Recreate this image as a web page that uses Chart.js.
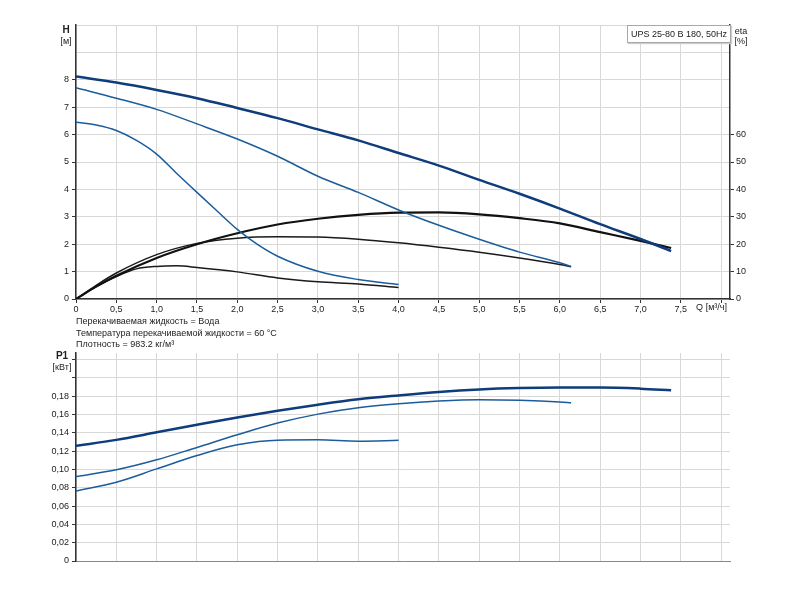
<!DOCTYPE html>
<html>
<head>
<meta charset="utf-8">
<script src="https://cdn.jsdelivr.net/npm/chart.js@4/dist/chart.umd.min.js"></script>
<style>
  body { margin: 0; background: #fff; font-family: "Liberation Sans", Arial, sans-serif; }
  #wrap { position: relative; width: 800px; height: 600px; }
  canvas { position: absolute; left: 0; }
  #top { top: 0; }
  #bottom { top: 340px; }
  .box { position: absolute; left: 627px; top: 25px; width: 99px; height: 16px; border: 1px solid #a8a8a8;
         background: #fff; font-size: 9px; line-height: 16px; padding-left: 3px; color: #222;
         white-space: nowrap; box-shadow: 1px 1px 1px #ccc; }
  .notes { position: absolute; left: 76px; top: 316px; font-size: 9px; line-height: 11.5px; color: #222; }
</style>
</head>
<body>
<div id="wrap">
  <canvas id="top" width="800" height="320"></canvas>
  <canvas id="bottom" width="800" height="240"></canvas>
  <div class="box">UPS 25-80 B 180, 50Hz</div>
  <div class="notes">
    Перекачиваемая жидкость = Вода<br>
    Температура перекачиваемой жидкости = 60 °C<br>
    Плотность = 983.2 кг/м³
  </div>
</div>
<script>
// head curves, H [m]
var qHeadHigh = [0, 0.5, 1, 1.5, 2, 2.5, 3, 3.5, 4, 4.5, 5, 5.5, 6, 6.5, 7, 7.38];
var headHigh  = [8.12, 7.9, 7.63, 7.33, 6.97, 6.6, 6.19, 5.79, 5.33, 4.87, 4.35, 3.84, 3.3, 2.73, 2.19, 1.75];
var qHeadMid  = [0, 0.5, 1, 1.5, 2, 2.5, 3, 3.5, 4, 4.5, 5, 5.5, 6, 6.14];
var headMid   = [7.71, 7.33, 6.92, 6.39, 5.84, 5.21, 4.48, 3.89, 3.25, 2.69, 2.18, 1.71, 1.32, 1.19];
var qHeadLow  = [0, 0.25, 0.5, 0.75, 1, 1.25, 1.5, 1.75, 2, 2.25, 2.5, 3, 3.5, 4];
var headLow   = [6.45, 6.35, 6.15, 5.79, 5.29, 4.58, 3.89, 3.21, 2.54, 1.99, 1.56, 1.01, 0.71, 0.53];

// efficiency curves, eta [%]
var qEtaHigh = [0, 0.25, 0.5, 1, 1.5, 2, 2.5, 3, 3.5, 4, 4.5, 5, 5.5, 6, 6.5, 7, 7.38];
var etaHigh  = [0, 4.5, 8.5, 15, 20, 24, 27.2, 29.3, 30.7, 31.5, 31.6, 30.9, 29.5, 27.6, 24.4, 21.2, 18.6];
var qEtaMid  = [0, 0.25, 0.5, 1, 1.5, 2, 2.5, 3, 3.5, 4, 4.5, 5, 5.5, 6, 6.14];
var etaMid   = [0, 5, 9.5, 16.2, 20.3, 22.2, 22.7, 22.6, 21.8, 20.5, 18.9, 17.1, 15, 12.6, 11.8];
var qEtaLow  = [0, 0.25, 0.5, 0.75, 1, 1.25, 1.5, 2, 2.5, 3, 3.5, 4];
var etaLow   = [0, 4.5, 8.2, 11, 11.9, 12.1, 11.5, 9.9, 7.7, 6.3, 5.5, 4.2];

// power curves, P1 [kW]
var qP1High = [0, 0.5, 1, 1.5, 2, 2.5, 3, 3.5, 4, 4.5, 5, 5.5, 6, 6.5, 7, 7.38];
var p1High  = [0.1257, 0.1322, 0.1404, 0.1486, 0.1566, 0.1639, 0.1705, 0.1764, 0.1807, 0.1845, 0.1872, 0.1887, 0.1893, 0.1893, 0.1881, 0.1863];
var qP1Mid  = [0, 0.5, 1, 1.5, 2, 2.5, 3, 3.5, 4, 4.5, 5, 5.5, 6, 6.14];
var p1Mid   = [0.0922, 0.0995, 0.1104, 0.1239, 0.1377, 0.1505, 0.1603, 0.1672, 0.1716, 0.1746, 0.176, 0.1754, 0.1736, 0.1727];
var qP1Low  = [0, 0.5, 1, 1.5, 2, 2.5, 3, 3.5, 4];
var p1Low   = [0.0765, 0.086, 0.1005, 0.1151, 0.1268, 0.1319, 0.1322, 0.1308, 0.1317];

// tick labels
var qTicks   = [0, 0.5, 1, 1.5, 2, 2.5, 3, 3.5, 4, 4.5, 5, 5.5, 6, 6.5, 7, 7.5, 8];
var hTicks   = [0, 1, 2, 3, 4, 5, 6, 7, 8, 9, 10];
var etaTicks = [0, 10, 20, 30, 40, 50, 60];
var p1Ticks  = [0, 0.02, 0.04, 0.06, 0.08, 0.1, 0.12, 0.14, 0.16, 0.18, 0.2, 0.22];

var FONT = { family: '"Liberation Sans", Arial, sans-serif', size: 9 };
var GRID = '#d8d8d8';
var AXIS = '#333';
var NAVY = '#0f3c7a';
var BLUE = '#1b5d9c';

function pts(xs, ys) {
  return xs.map(function (x, i) { return { x: x, y: ys[i] }; });
}
function comma(v, d) {
  return v === 0 ? '0' : v.toFixed(d).replace('.', ',');
}
function line(data, color, width, axis) {
  return {
    data: data, borderColor: color, borderWidth: width, pointRadius: 0,
    fill: false, cubicInterpolationMode: 'monotone', yAxisID: axis || 'y'
  };
}
function setTicks(list) {
  return function (scale) { scale.ticks = list.map(function (v) { return { value: v }; }); };
}

var axisTitles = {
  id: 'axisTitles',
  afterDraw: function (chart, args, opts) {
    var ctx = chart.ctx;
    ctx.save();
    ctx.fillStyle = '#222';
    ctx.textBaseline = 'middle';
    opts.items.forEach(function (t) {
      ctx.font = (t.bold ? 'bold ' : '') + (t.size || 9) + 'px "Liberation Sans", Arial, sans-serif';
      ctx.textAlign = t.align || 'center';
      ctx.fillText(t.text, t.x, t.y);
    });
    ctx.restore();
  }
};

new Chart(document.getElementById('top'), {
  type: 'line',
  data: {
    datasets: [
      line(pts(qHeadHigh, headHigh), NAVY, 2.5),
      line(pts(qHeadMid, headMid), BLUE, 1.5),
      line(pts(qHeadLow, headLow), BLUE, 1.5),
      line(pts(qEtaHigh, etaHigh), '#111', 2.2, 'eta'),
      line(pts(qEtaMid, etaMid), '#1a1a1a', 1.5, 'eta'),
      line(pts(qEtaLow, etaLow), '#1a1a1a', 1.5, 'eta')
    ]
  },
  options: {
    responsive: false,
    animation: false,
    layout: { padding: { top: 25, left: 0, right: 0, bottom: 0 }, autoPadding: false },
    plugins: {
      legend: { display: false },
      tooltip: { enabled: false },
      axisTitles: {
        items: [
          { text: 'H', x: 66, y: 30, bold: true, size: 10 },
          { text: '[м]', x: 66, y: 42 },
          { text: 'eta', x: 741, y: 32 },
          { text: '[%]', x: 741, y: 42 },
          { text: 'Q [м³/ч]', x: 727, y: 308, align: 'right' }
        ]
      }
    },
    scales: {
      x: {
        type: 'linear', min: 0, max: 8.11,
        afterBuildTicks: setTicks(qTicks),
        afterFit: function (s) { s.height = 21; },
        grid: { color: GRID, tickColor: AXIS, tickLength: 4 },
        border: { color: AXIS, width: 1.5 },
        ticks: {
          font: FONT, color: '#222', padding: 1, maxRotation: 0, autoSkip: false,
          callback: function (v) { return v > 7.5 ? '' : comma(v, 1); }
        }
      },
      y: {
        position: 'left', min: 0, max: 10,
        afterBuildTicks: setTicks(hTicks),
        afterFit: function (s) { s.width = 76; },
        grid: { color: GRID, tickColor: function (c) { return c.tick && c.tick.value > 8 ? 'rgba(0,0,0,0)' : AXIS; }, tickLength: 4 },
        border: { color: AXIS, width: 1.5 },
        ticks: {
          font: FONT, color: '#222', padding: 3,
          callback: function (v) { return v > 8 ? '' : String(v); }
        }
      },
      eta: {
        position: 'right', min: 0, max: 100,
        afterBuildTicks: setTicks(etaTicks),
        afterFit: function (s) { s.width = 70; },
        grid: { drawOnChartArea: false, tickColor: AXIS, tickLength: 4 },
        border: { color: AXIS, width: 1.5 },
        ticks: { font: FONT, color: '#222', padding: 2 }
      }
    }
  },
  plugins: [axisTitles]
});

new Chart(document.getElementById('bottom'), {
  type: 'line',
  data: {
    datasets: [
      line(pts(qP1High, p1High), NAVY, 2.5),
      line(pts(qP1Mid, p1Mid), BLUE, 1.5),
      line(pts(qP1Low, p1Low), BLUE, 1.5)
    ]
  },
  options: {
    responsive: false,
    animation: false,
    layout: { padding: { top: 13, left: 0, right: 70, bottom: 0 }, autoPadding: false },
    plugins: {
      legend: { display: false },
      tooltip: { enabled: false },
      axisTitles: {
        items: [
          { text: 'P1', x: 62, y: 16, bold: true, size: 10 },
          { text: '[кВт]', x: 62, y: 28 }
        ]
      }
    },
    scales: {
      x: {
        type: 'linear', min: 0, max: 8.11,
        afterBuildTicks: setTicks(qTicks),
        afterFit: function (s) { s.height = 19; },
        grid: { color: GRID, drawTicks: false },
        border: { color: '#888', width: 1 },
        ticks: { display: false }
      },
      y: {
        position: 'left', min: 0, max: 0.227,
        afterBuildTicks: setTicks(p1Ticks),
        afterFit: function (s) { s.width = 76; },
        grid: { color: GRID, tickColor: AXIS, tickLength: 4 },
        border: { color: AXIS, width: 1.5 },
        ticks: {
          font: FONT, color: '#222', padding: 3,
          callback: function (v) { return v > 0.185 ? '' : comma(v, 2); }
        }
      }
    }
  },
  plugins: [axisTitles]
});
</script>
</body>
</html>
